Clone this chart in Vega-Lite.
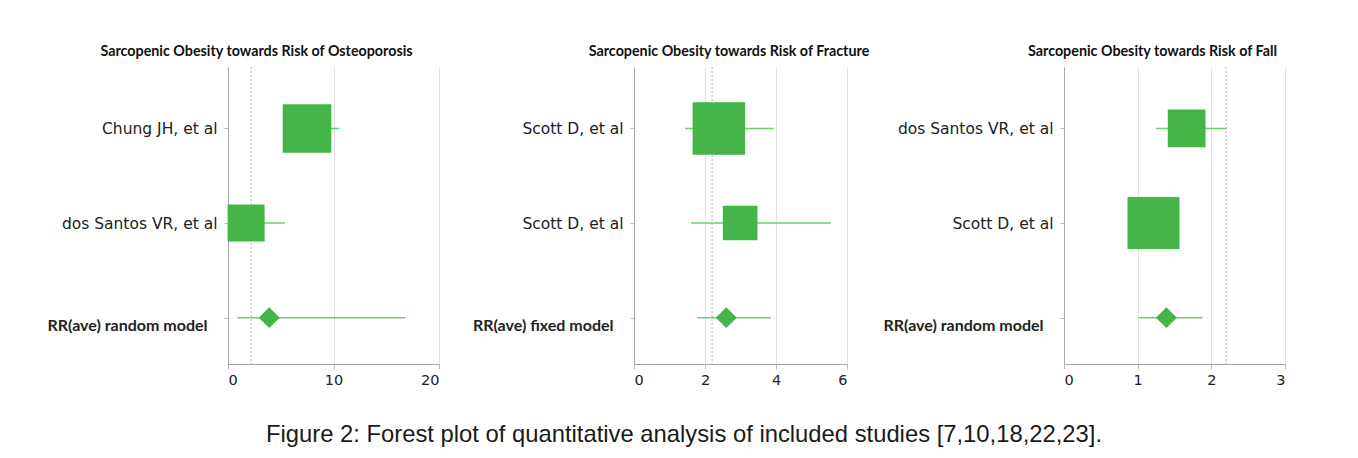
{
  "$schema": "https://vega.github.io/schema/vega-lite/v6.json",
  "padding": {"left": 46, "top": 45, "right": 0, "bottom": 0},
  "background": "white",
  "datasets": {
    "forest": [
      {"panel": "Osteoporosis", "row": 1, "label": "Chung JH, et al", "kind": "study", "est": 7.49, "lo": 5.4, "hi": 10.55, "weight": 63},
      {"panel": "Osteoporosis", "row": 2, "label": "dos Santos VR, et al", "kind": "study", "est": 1.72, "lo": 0.3, "hi": 5.4, "weight": 36.5},
      {"panel": "Osteoporosis", "row": 3, "label": "RR(ave) random model", "kind": "pooled", "est": 3.91, "lo": 0.88, "hi": 16.8},
      {"panel": "Fracture", "row": 1, "label": "Scott D, et al", "kind": "study", "est": 2.39, "lo": 1.44, "hi": 3.94, "weight": 73.5},
      {"panel": "Fracture", "row": 2, "label": "Scott D, et al\u200b", "kind": "study", "est": 2.99, "lo": 1.61, "hi": 5.55, "weight": 32},
      {"panel": "Fracture", "row": 3, "label": "RR(ave) fixed model", "kind": "pooled", "est": 2.6, "lo": 1.77, "hi": 3.86},
      {"panel": "Fall", "row": 1, "label": "dos Santos VR, et al", "kind": "study", "est": 1.665, "lo": 1.25, "hi": 2.21, "weight": 38},
      {"panel": "Fall", "row": 2, "label": "Scott D, et al", "kind": "study", "est": 1.215, "lo": 0.95, "hi": 1.5, "weight": 72},
      {"panel": "Fall", "row": 3, "label": "RR(ave) random model", "kind": "pooled", "est": 1.39, "lo": 1.02, "hi": 1.88}
    ]
  },
  "title": {
    "text": "Figure 2: Forest plot of quantitative analysis of included studies [7,10,18,22,23].",
    "orient": "bottom",
    "anchor": "start",
    "dx": 38,
    "font": "Liberation Sans",
    "fontSize": 23.8,
    "fontWeight": "normal",
    "color": "#1a1a1a",
    "offset": 36
  },
  "bounds": "flush",
  "spacing": 195,
  "hconcat": [
    {
      "width": 211,
      "height": 297,
      "title": {"text": "Sarcopenic Obesity towards Risk of Osteoporosis", "dx": -77},
      "data": {"name": "forest"},
      "transform": [{"filter": "datum.panel == 'Osteoporosis'"}],
      "layer": [
        {
          "transform": [{"filter": "datum.row == 1"}],
          "mark": {"type": "rule", "color": "#b5b5b5", "strokeDash": [2, 2], "strokeWidth": 1},
          "encoding": {"x": {"datum": 2.2, "type": "quantitative", "title": null, "scale": {"domain": [0, 20], "nice": false}, "axis": {"values": [0, 10, 20], "format": "d"}}}
        },
        {
          "mark": {"type": "rule", "color": "#6fcb6f", "strokeWidth": 1.5},
          "encoding": {
            "x": {"field": "lo", "type": "quantitative", "title": null},
            "x2": {"field": "hi"},
            "y": {
              "field": "label", "type": "nominal", "title": null,
              "sort": {"field": "row", "op": "min"},
              "scale": {"type": "point", "padding": 0.57, "align": 0.57},
              "axis": {
                "labelFont": {"condition": {"test": "indexof(datum.value,'RR') === 0", "value": "Lato"}, "value": "DejaVu Sans"},
                "labelFontWeight": {"condition": {"test": "indexof(datum.value,'RR') === 0", "value": "bold"}, "value": "normal"},
                "labelFontSize": {"condition": {"test": "indexof(datum.value,'RR') === 0", "value": 16}, "value": 15.5},
                "labelPadding": {"condition": {"test": "indexof(datum.value,'RR') === 0", "value": 17}, "value": 7},
                "labelOffset": {"condition": {"test": "indexof(datum.value,'RR') === 0", "value": 8}, "value": 0}
              }
            }
          }
        },
        {
          "transform": [{"filter": "datum.kind == 'study'"}],
          "mark": {"type": "point", "shape": "square", "filled": true, "opacity": 1, "color": "#44b649"},
          "encoding": {
            "x": {"field": "est", "type": "quantitative", "title": null},
            "y": {"field": "label", "type": "nominal", "title": null, "sort": {"field": "row", "op": "min"}},
            "size": {"field": "weight", "type": "quantitative", "scale": {"domain": [0, 100], "range": [0, 3750]}, "legend": null}
          }
        },
        {
          "transform": [{"filter": "datum.kind == 'pooled'"}],
          "mark": {"type": "point", "shape": "diamond", "filled": true, "opacity": 1, "color": "#44b649", "size": 440},
          "encoding": {
            "x": {"field": "est", "type": "quantitative", "title": null},
            "y": {"field": "label", "type": "nominal", "title": null, "sort": {"field": "row", "op": "min"}}
          }
        }
      ]
    },
    {
      "bounds": "flush",
      "spacing": 217,
      "hconcat": [
        {
          "width": 213,
          "height": 297,
          "title": {"text": "Sarcopenic Obesity towards Risk of Fracture", "dx": -11.5},
          "data": {"name": "forest"},
          "transform": [{"filter": "datum.panel == 'Fracture'"}],
          "layer": [
            {
              "transform": [{"filter": "datum.row == 1"}],
              "mark": {"type": "rule", "color": "#b5b5b5", "strokeDash": [2, 2], "strokeWidth": 1},
              "encoding": {"x": {"datum": 2.2, "type": "quantitative", "title": null, "scale": {"domain": [0, 6], "nice": false}, "axis": {"values": [0, 2, 4, 6], "format": "d"}}}
            },
            {
              "mark": {"type": "rule", "color": "#6fcb6f", "strokeWidth": 1.5},
              "encoding": {
                "x": {"field": "lo", "type": "quantitative", "title": null},
                "x2": {"field": "hi"},
                "y": {
                  "field": "label", "type": "nominal", "title": null,
                  "sort": {"field": "row", "op": "min"},
                  "scale": {"type": "point", "padding": 0.57, "align": 0.57},
                  "axis": {
                    "labelFont": {"condition": {"test": "indexof(datum.value,'RR') === 0", "value": "Lato"}, "value": "DejaVu Sans"},
                    "labelFontWeight": {"condition": {"test": "indexof(datum.value,'RR') === 0", "value": "bold"}, "value": "normal"},
                    "labelFontSize": {"condition": {"test": "indexof(datum.value,'RR') === 0", "value": 16}, "value": 15.5},
                    "labelPadding": {"condition": {"test": "indexof(datum.value,'RR') === 0", "value": 17}, "value": 7},
                    "labelOffset": {"condition": {"test": "indexof(datum.value,'RR') === 0", "value": 8}, "value": 0}
                  }
                }
              }
            },
            {
              "transform": [{"filter": "datum.kind == 'study'"}],
              "mark": {"type": "point", "shape": "square", "filled": true, "opacity": 1, "color": "#44b649"},
              "encoding": {
                "x": {"field": "est", "type": "quantitative", "title": null},
                "y": {"field": "label", "type": "nominal", "title": null, "sort": {"field": "row", "op": "min"}},
                "size": {"field": "weight", "type": "quantitative", "scale": {"domain": [0, 100], "range": [0, 3750]}, "legend": null}
              }
            },
            {
              "transform": [{"filter": "datum.kind == 'pooled'"}],
              "mark": {"type": "point", "shape": "diamond", "filled": true, "opacity": 1, "color": "#44b649", "size": 440},
              "encoding": {
                "x": {"field": "est", "type": "quantitative", "title": null},
                "y": {"field": "label", "type": "nominal", "title": null, "sort": {"field": "row", "op": "min"}}
              }
            }
          ]
        },
        {
          "width": 221,
          "height": 297,
          "title": {"text": "Sarcopenic Obesity towards Risk of Fall", "dx": -22},
          "data": {"name": "forest"},
          "transform": [{"filter": "datum.panel == 'Fall'"}],
          "layer": [
            {
              "transform": [{"filter": "datum.row == 1"}],
              "mark": {"type": "rule", "color": "#b5b5b5", "strokeDash": [2, 2], "strokeWidth": 1},
              "encoding": {"x": {"datum": 2.2, "type": "quantitative", "title": null, "scale": {"domain": [0, 3], "nice": false}, "axis": {"values": [0, 1, 2, 3], "format": "d"}}}
            },
            {
              "mark": {"type": "rule", "color": "#6fcb6f", "strokeWidth": 1.5},
              "encoding": {
                "x": {"field": "lo", "type": "quantitative", "title": null},
                "x2": {"field": "hi"},
                "y": {
                  "field": "label", "type": "nominal", "title": null,
                  "sort": {"field": "row", "op": "min"},
                  "scale": {"type": "point", "padding": 0.57, "align": 0.57},
                  "axis": {
                    "labelFont": {"condition": {"test": "indexof(datum.value,'RR') === 0", "value": "Lato"}, "value": "DejaVu Sans"},
                    "labelFontWeight": {"condition": {"test": "indexof(datum.value,'RR') === 0", "value": "bold"}, "value": "normal"},
                    "labelFontSize": {"condition": {"test": "indexof(datum.value,'RR') === 0", "value": 16}, "value": 15.5},
                    "labelPadding": {"condition": {"test": "indexof(datum.value,'RR') === 0", "value": 17}, "value": 7},
                    "labelOffset": {"condition": {"test": "indexof(datum.value,'RR') === 0", "value": 8}, "value": 0}
                  }
                }
              }
            },
            {
              "transform": [{"filter": "datum.kind == 'study'"}],
              "mark": {"type": "point", "shape": "square", "filled": true, "opacity": 1, "color": "#44b649"},
              "encoding": {
                "x": {"field": "est", "type": "quantitative", "title": null},
                "y": {"field": "label", "type": "nominal", "title": null, "sort": {"field": "row", "op": "min"}},
                "size": {"field": "weight", "type": "quantitative", "scale": {"domain": [0, 100], "range": [0, 3750]}, "legend": null}
              }
            },
            {
              "transform": [{"filter": "datum.kind == 'pooled'"}],
              "mark": {"type": "point", "shape": "diamond", "filled": true, "opacity": 1, "color": "#44b649", "size": 440},
              "encoding": {
                "x": {"field": "est", "type": "quantitative", "title": null},
                "y": {"field": "label", "type": "nominal", "title": null, "sort": {"field": "row", "op": "min"}}
              }
            }
          ]
        }
      ]
    }
  ],
  "config": {
    "view": {"stroke": null},
    "font": "DejaVu Sans",
    "axis": {
      "domainColor": "#a8a8a8",
      "tickColor": "#bdbdbd",
      "gridColor": "#e2e2e2",
      "labelColor": "#222222",
      "labelFont": "DejaVu Sans"
    },
    "axisX": {"grid": true, "tickSize": 5, "labelPadding": 4, "labelFontSize": 14.5},
    "axisY": {"grid": false, "tickSize": 4},
    "title": {"font": "Lato", "fontSize": 14.3, "fontWeight": "bold", "color": "#111111", "anchor": "middle", "frame": "group", "offset": 7}
  }
}
